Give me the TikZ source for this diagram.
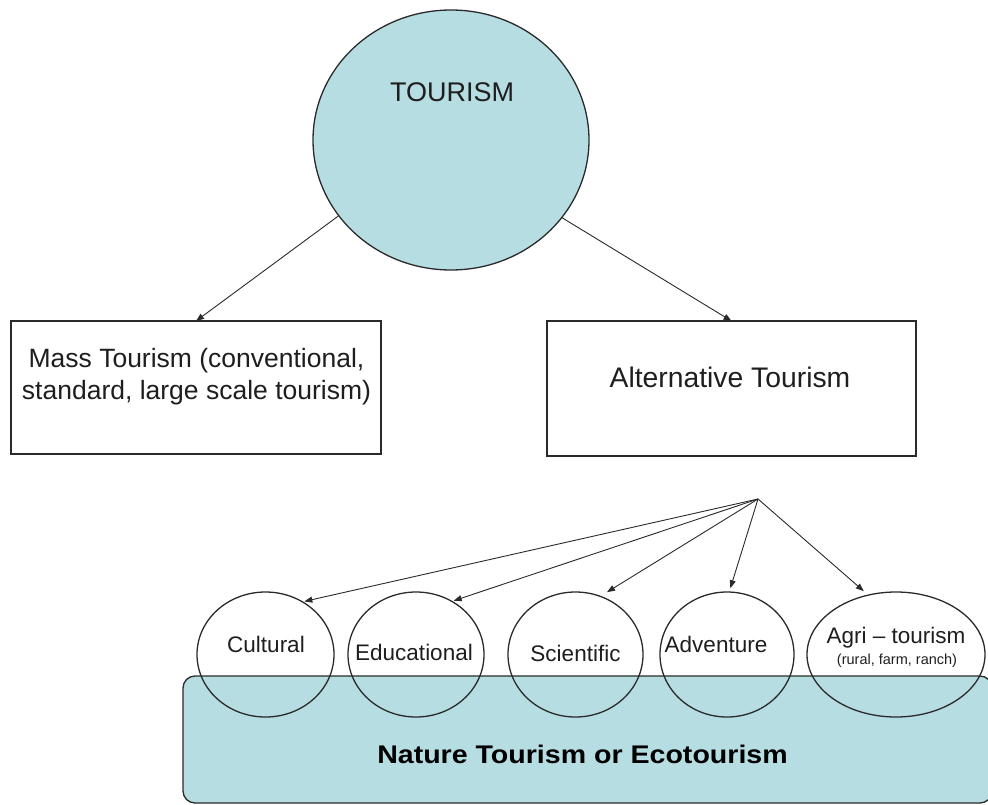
\documentclass[tikz,border=0pt]{standalone}
\usepackage{fontspec}
\setmainfont{Liberation Sans}
\newfontfamily\widesans{Liberation Sans}[FakeStretch=1.12]
\usetikzlibrary{shapes.geometric,arrows.meta}

\definecolor{ecoteal}{HTML}{B6DDE1}
\definecolor{linegray}{HTML}{2A2A2A}
\definecolor{textgray}{HTML}{1E1E1E}

\begin{document}
\begin{tikzpicture}[x=1pt,y=-1pt,
  outline/.style={draw=linegray, line width=1.3pt},
  bubble/.style={ellipse, outline, inner sep=0pt, outer sep=0pt},
  box/.style={rectangle, outline, inner sep=0pt, outer sep=0pt},
  lbl/.style={inner sep=0pt, anchor=base, text=textgray},
  bigtext/.style={lbl, font=\fontsize{27}{32}\selectfont},
  midtext/.style={lbl, font=\fontsize{22.5}{27}\selectfont},
  smalltext/.style={lbl, font=\fontsize{14.5}{17}\selectfont},
  arr/.style={draw=linegray, line width=0.9pt, -{Triangle[length=8pt,width=6pt]}},
]
\useasboundingbox (0,0) rectangle (988,805);

% top level
\node[bubble, fill=ecoteal, minimum width=276pt, minimum height=260pt] (tourism) at (451,140) {};
\node[bigtext] (tourismlbl) at (452,102) {TOURISM};

% second level boxes
\node[box, minimum width=370pt, minimum height=133pt] (mass) at (196,387.5) {};
\node[bigtext, font=\fontsize{26.5}{32}\selectfont] (masslineA) at (196.5,367) {Mass Tourism (conventional,};
\node[bigtext, font=\fontsize{26.5}{32}\selectfont] (masslineB) at (196.5,399) {standard, large scale tourism)};

\node[box, minimum width=369pt, minimum height=135pt] (alt) at (731.5,388.5) {};
\node[bigtext, font=\fontsize{28.3}{33}\selectfont] (altlbl) at (730,387) {Alternative Tourism};

\draw[arr] (tourism.214.7) -- (mass.north);
\draw[arr] (tourism.-35.2) -- (alt.north);

% nature tourism band
\node[rectangle, outline, fill=ecoteal, rounded corners=12pt, minimum width=809pt, minimum height=127pt] (nature) at (587.5,739.5) {};
\node[lbl, text=black, font=\widesans\fontsize{25.5}{30}\selectfont\bfseries] (naturelbl) at (582.5,763) {Nature Tourism or Ecotourism};

% forms of alternative tourism
\node[bubble, minimum width=137pt, minimum height=125pt] (cult) at (265.5,654.5) {};
\node[bubble, minimum width=136pt, minimum height=125pt] (edu)  at (416,654.5) {};
\node[bubble, minimum width=135pt, minimum height=125pt] (sci)  at (575.5,654.5) {};
\node[bubble, minimum width=134pt, minimum height=125pt] (adv)  at (727,654.5) {};
\node[bubble, minimum width=178pt, minimum height=125pt] (agri) at (896,654.5) {};

\node[midtext] (cultlbl) at (266,652) {Cultural};
\node[midtext] (edulbl)  at (414,660) {Educational};
\node[midtext] (scilbl)  at (575.5,661) {Scientific};
\node[midtext] (advlbl)  at (716,652) {Adventure};
\node[midtext] (agrilbl) at (896,643) {Agri – tourism};
\node[smalltext] (agrisub) at (897,664) {(rural, farm, ranch)};

\coordinate (fan) at (758,499);
\draw[arr, shorten >=2pt] (fan) -- (cult.55.9);
\draw[arr, shorten >=2pt] (fan) -- (edu.56.1);
\draw[arr, shorten >=8pt] (fan) -- (sci.67.5);
\draw[arr, shorten >=4pt] (fan) -- (adv.88.7);
\draw[arr, shorten >=6pt] (fan) -- (agri.115.7);
\end{tikzpicture}
\end{document}
